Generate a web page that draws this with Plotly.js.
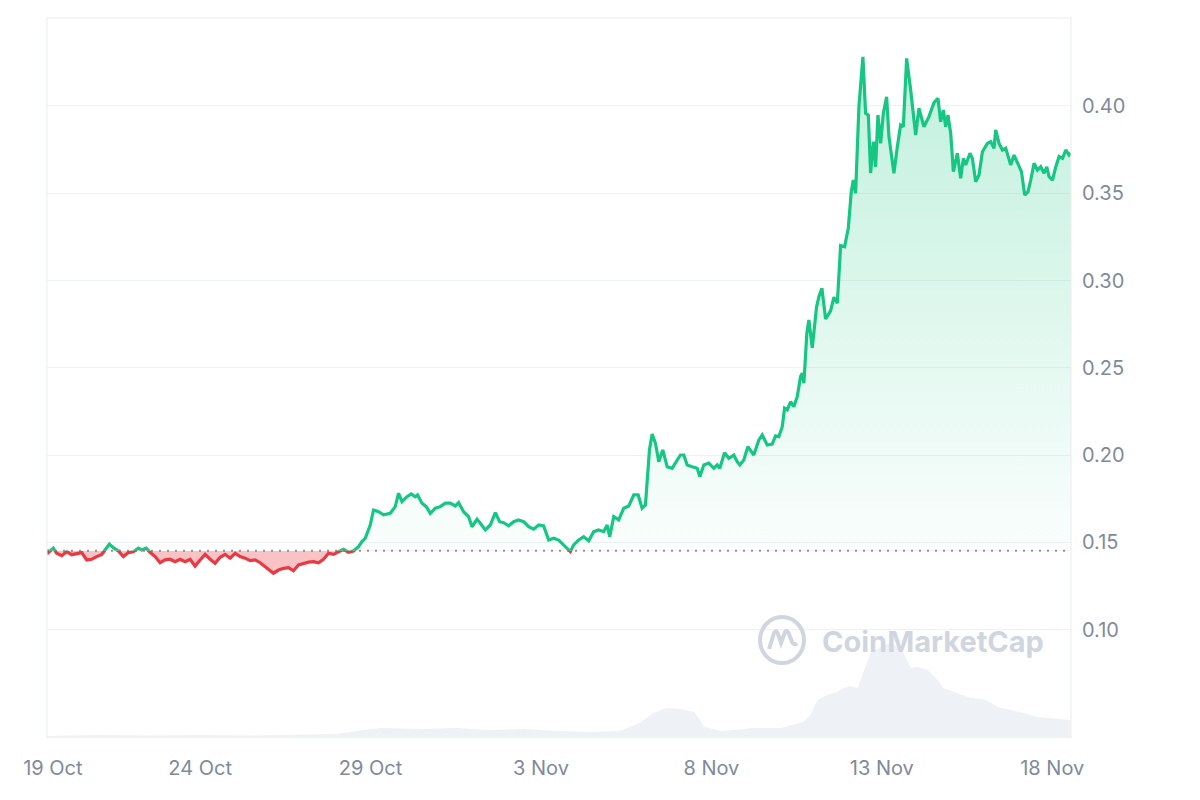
<!DOCTYPE html>
<html><head><meta charset="utf-8">
<script src="https://cdn.plot.ly/plotly-3.0.1.min.js"></script>
<style>html,body{margin:0;padding:0;background:#fff}#chart{width:1200px;height:800px}</style>
</head><body><div id="chart"></div>
<script>
// time in days since 19 Oct 00:00
const days = [
0.508, 0.546, 0.693, 0.793, 0.940, 1.086, 1.233, 1.380, 1.527, 1.674,
1.820, 1.967, 2.114, 2.211, 2.337, 2.454, 2.601, 2.748, 2.895, 3.042,
3.188, 3.288, 3.415, 3.532, 3.679, 3.826, 3.972, 4.119, 4.266, 4.413,
4.560, 4.706, 4.853, 5.000, 5.147, 5.294, 5.441, 5.587, 5.734, 5.881,
6.028, 6.174, 6.321, 6.468, 6.615, 6.762, 6.908, 7.055, 7.152, 7.299,
7.446, 7.593, 7.739, 7.886, 8.033, 8.180, 8.327, 8.473, 8.620, 8.767,
8.914, 9.060, 9.207, 9.354, 9.501, 9.648, 9.748, 9.844, 9.941, 9.991,
10.088, 10.235, 10.382, 10.578, 10.725, 10.822, 10.922, 11.069, 11.195, 11.312,
11.380, 11.509, 11.635, 11.753, 11.900, 12.046, 12.193, 12.340, 12.487, 12.584,
12.730, 12.877, 12.977, 13.124, 13.221, 13.368, 13.514, 13.661, 13.787, 13.905,
14.052, 14.199, 14.345, 14.492, 14.639, 14.786, 14.933, 15.079, 15.226, 15.373,
15.520, 15.666, 15.863, 15.960, 16.107, 16.254, 16.401, 16.547, 16.694, 16.841,
16.941, 17.017, 17.135, 17.281, 17.428, 17.575, 17.722, 17.851, 17.968, 18.065,
18.115, 18.183, 18.262, 18.359, 18.456, 18.573, 18.703, 18.849, 18.996, 19.093,
19.190, 19.290, 19.436, 19.583, 19.660, 19.777, 19.924, 20.071, 20.170, 20.247,
20.385, 20.511, 20.658, 20.757, 20.834, 20.951, 21.069, 21.245, 21.392, 21.492,
21.638, 21.785, 21.882, 21.979, 22.079, 22.146, 22.226, 22.323, 22.419, 22.519,
22.616, 22.666, 22.713, 22.801, 22.860, 22.959, 23.086, 23.154, 23.242, 23.351,
23.497, 23.594, 23.694, 23.791, 23.908, 24.016, 24.104, 24.163, 24.231, 24.328,
24.445, 24.524, 24.604, 24.671, 24.751, 24.818, 24.886, 24.965, 25.044, 25.141,
25.209, 25.355, 25.455, 25.552, 25.631, 25.728, 25.846, 25.993, 26.089, 26.236,
26.383, 26.530, 26.647, 26.726, 26.806, 26.873, 26.941, 27.020, 27.099, 27.216,
27.313, 27.392, 27.460, 27.586, 27.657, 27.754, 27.851, 27.951, 28.097, 28.194,
28.291, 28.341, 28.438, 28.538, 28.635, 28.782, 28.879, 28.996, 29.096, 29.193,
29.290, 29.369, 29.466, 29.566, 29.663, 29.760, 29.839, 29.907, 30.007, 30.104,
30.201, 30.301, 30.398, 30.494, 30.544
];
// price in USD
const price = [
0.1458, 0.1442, 0.1467, 0.1438, 0.1424, 0.1447, 0.1430, 0.1438, 0.1442, 0.1400,
0.1404, 0.1419, 0.1432, 0.1457, 0.1491, 0.1470, 0.1451, 0.1419, 0.1442, 0.1447,
0.1467, 0.1457, 0.1467, 0.1444, 0.1419, 0.1384, 0.1400, 0.1404, 0.1390, 0.1404,
0.1390, 0.1404, 0.1365, 0.1400, 0.1432, 0.1404, 0.1381, 0.1415, 0.1432, 0.1410,
0.1438, 0.1419, 0.1410, 0.1396, 0.1400, 0.1384, 0.1361, 0.1342, 0.1324, 0.1342,
0.1352, 0.1356, 0.1338, 0.1371, 0.1381, 0.1387, 0.1390, 0.1384, 0.1404, 0.1438,
0.1432, 0.1447, 0.1461, 0.1444, 0.1451, 0.1476, 0.1505, 0.1524, 0.1581, 0.1600,
0.1686, 0.1676, 0.1658, 0.1667, 0.1705, 0.1782, 0.1734, 0.1762, 0.1778, 0.1762,
0.1772, 0.1725, 0.1705, 0.1667, 0.1696, 0.1705, 0.1725, 0.1725, 0.1709, 0.1728,
0.1676, 0.1648, 0.1590, 0.1633, 0.1610, 0.1572, 0.1600, 0.1671, 0.1619, 0.1613,
0.1595, 0.1619, 0.1629, 0.1619, 0.1590, 0.1576, 0.1600, 0.1595, 0.1514, 0.1524,
0.1514, 0.1486, 0.1448, 0.1486, 0.1514, 0.1533, 0.1510, 0.1562, 0.1572, 0.1562,
0.1600, 0.1533, 0.1648, 0.1629, 0.1696, 0.1709, 0.1772, 0.1772, 0.1696, 0.1715,
0.1858, 0.2030, 0.2121, 0.2068, 0.1963, 0.2030, 0.1934, 0.1925, 0.1972, 0.2001,
0.2001, 0.1944, 0.1934, 0.1925, 0.1877, 0.1944, 0.1954, 0.1925, 0.1944, 0.1925,
0.2014, 0.1982, 0.2001, 0.1963, 0.1944, 0.1972, 0.2049, 0.2001, 0.2087, 0.2116,
0.2058, 0.2064, 0.2110, 0.2106, 0.2163, 0.2269, 0.2259, 0.2306, 0.2278, 0.2335,
0.2450, 0.2469, 0.2412, 0.2700, 0.2774, 0.2615, 0.2850, 0.2908, 0.2956, 0.2780,
0.2827, 0.2905, 0.2870, 0.3200, 0.3194, 0.3300, 0.3509, 0.3576, 0.3500, 0.3996,
0.4282, 0.3958, 0.3948, 0.3615, 0.3796, 0.3652, 0.3948, 0.3786, 0.3958, 0.4053,
0.3824, 0.3615, 0.3767, 0.3891, 0.3881, 0.4273, 0.4092, 0.3834, 0.3987, 0.3881,
0.3939, 0.4019, 0.4044, 0.3910, 0.3977, 0.3881, 0.3948, 0.3844, 0.3624, 0.3729,
0.3586, 0.3700, 0.3662, 0.3729, 0.3700, 0.3566, 0.3605, 0.3738, 0.3786, 0.3796,
0.3758, 0.3863, 0.3786, 0.3748, 0.3758, 0.3662, 0.3719, 0.3672, 0.3624, 0.3490,
0.3509, 0.3576, 0.3672, 0.3633, 0.3652, 0.3615, 0.3652, 0.3595, 0.3576, 0.3652,
0.3710, 0.3700, 0.3748, 0.3719, 0.3730
];
// trading volume, USD millions
const volDays = [
0.51, 2.0, 3.5, 5.0, 6.5, 8.0, 9.0, 9.6, 10.3, 11.5,
12.5, 13.5, 14.5, 15.5, 16.5, 17.3, 17.9, 18.3, 18.7, 19.1,
19.5, 19.8, 20.3, 21.0, 21.15, 22.03, 22.41, 22.70, 22.90, 23.11,
23.40, 23.70, 23.87, 24.08, 24.29, 24.46, 24.67, 24.96, 25.26, 25.46,
25.64, 25.85, 26.05, 26.35, 26.64, 26.81, 27.22, 27.61, 27.99, 28.40,
28.78, 29.16, 29.57, 29.95, 30.54
];
const volume = [
4, 6, 5, 6, 5, 6, 8, 14, 20, 18,
20, 16, 18, 14, 12, 14, 30, 50, 60, 58,
52, 22, 14, 18, 20, 20, 26, 32, 46, 76,
86, 92, 100, 104, 100, 130, 170, 182, 190, 182,
170, 140, 142, 136, 116, 100, 90, 80, 78, 62,
56, 50, 42, 40, 36
];
const tickDays = [0.68, 5, 10, 15, 20, 25, 30];
const tickLabels = ['19 Oct', '24 Oct', '29 Oct', '3 Nov', '8 Nov', '13 Nov', '18 Nov'];
const upperTicks = [0.15, 0.20, 0.25, 0.30, 0.35, 0.40];
const lowerTicks = [0.10];

const BASE = 0.1453;   // opening price (reference line)
const LO = 0.0380, HI = 0.4504;
const f = (BASE - LO) / (HI - LO);
const GREEN = '#16c784', RED = '#ea3943';
const GRID = '#eff2f5';
const TXT = '#808a9d';

const traces = [
  {x: volDays, y: volume, xaxis: 'x', yaxis: 'y2', type: 'scatter', mode: 'lines',
   line: {width: 0, color: '#eef1f5'}, fill: 'tozeroy', fillcolor: '#eef1f5', hoverinfo: 'skip'},
  {x: [days[0], days[days.length - 1]], y: [BASE, BASE], xaxis: 'x', yaxis: 'y3', type: 'scatter',
   mode: 'lines', line: {width: 0}, hoverinfo: 'skip'},
  {x: days, y: price, xaxis: 'x', yaxis: 'y3', type: 'scatter', mode: 'lines',
   line: {color: RED, width: 3.2}, fill: 'tonexty', fillcolor: 'rgba(234,57,67,0.30)'},
  {x: days, y: price, xaxis: 'x', yaxis: 'y', type: 'scatter', mode: 'lines',
   line: {color: GREEN, width: 3.2}, fill: 'tozeroy',
   fillgradient: {type: 'vertical', start: BASE, stop: 0.43,
     colorscale: [[0, 'rgba(22,199,132,0.02)'], [1, 'rgba(22,199,132,0.27)']]}}
];

const fontFam = 'Inter, "Noto Sans", Roboto, sans-serif';
const layout = {
  width: 1200, height: 800,
  margin: {l: 47, r: 129, t: 18, b: 62},
  paper_bgcolor: '#ffffff', plot_bgcolor: 'rgba(0,0,0,0)',
  showlegend: false,
  font: {family: fontFam, color: TXT, size: 20},
  xaxis: {range: [0.508, 30.55], anchor: 'y2', tickvals: tickDays, ticktext: tickLabels,
    showgrid: false, zeroline: false, showline: false, ticks: 'outside', ticklen: 12,
    tickcolor: 'rgba(0,0,0,0)', tickfont: {size: 20, color: TXT}},
  yaxis: {domain: [f, 1], range: [BASE, HI], side: 'right', anchor: 'x', tickvals: upperTicks,
    tickformat: '.2f', showgrid: true, gridcolor: GRID, gridwidth: 1, zeroline: false, showline: false,
    ticks: 'outside', ticklen: 6, tickcolor: 'rgba(0,0,0,0)', tickfont: {size: 20, color: TXT}},
  yaxis2: {domain: [0, f], range: [0, 375], visible: false, showgrid: false, zeroline: false, anchor: 'x'},
  yaxis3: {overlaying: 'y2', range: [LO, BASE], side: 'right', anchor: 'x', tickvals: lowerTicks,
    tickformat: '.2f', showgrid: true, gridcolor: GRID, gridwidth: 1, zeroline: false, showline: false,
    ticks: 'outside', ticklen: 6, tickcolor: 'rgba(0,0,0,0)', tickfont: {size: 20, color: TXT}},
  shapes: [
    {type: 'line', xref: 'paper', yref: 'paper', x0: 0, x1: 0, y0: 0, y1: 1, line: {color: '#e8ebef', width: 1}},
    {type: 'line', xref: 'paper', yref: 'paper', x0: 0, x1: 1, y0: 1, y1: 1, line: {color: '#e8ebef', width: 1}},
    {type: 'line', xref: 'paper', yref: 'paper', x0: 1, x1: 1, y0: 0, y1: 1, line: {color: '#e8ebef', width: 1}},
    {type: 'line', xref: 'paper', yref: 'paper', x0: 0, x1: 1, y0: f, y1: f, layer: 'below',
     line: {color: '#8f96a3', width: 2, dash: '2px,6px'}},
    {type: 'circle', xref: 'paper', yref: 'paper', xsizemode: 'pixel', ysizemode: 'pixel',
     xanchor: 0.7178, yanchor: 0.1361, x0: -22, x1: 22, y0: -23, y1: 23,
     line: {color: '#d0d6df', width: 4}},
    {type: 'path', xref: 'paper', yref: 'paper', xsizemode: 'pixel', ysizemode: 'pixel',
     xanchor: 0.7178, yanchor: 0.1361,
     path: 'M -13 -9 L -8 7 Q -6 11 -4 6 L -1 -3 L 3 8 Q 5 11 7 6 L 10 -2 Q 12 -6 15 -3',
     line: {color: '#d0d6df', width: 4}}
  ],
  annotations: [
    {xref: 'paper', yref: 'paper', x: 0.7548, y: 0.1347, xanchor: 'left', yanchor: 'middle',
     text: 'CoinMarketCap', showarrow: false,
     font: {family: fontFam, size: 29, color: '#d0d6df', weight: 700}}
  ]
};

Plotly.newPlot('chart', traces, layout, {staticPlot: true, displayModeBar: false});
</script>
</body></html>
